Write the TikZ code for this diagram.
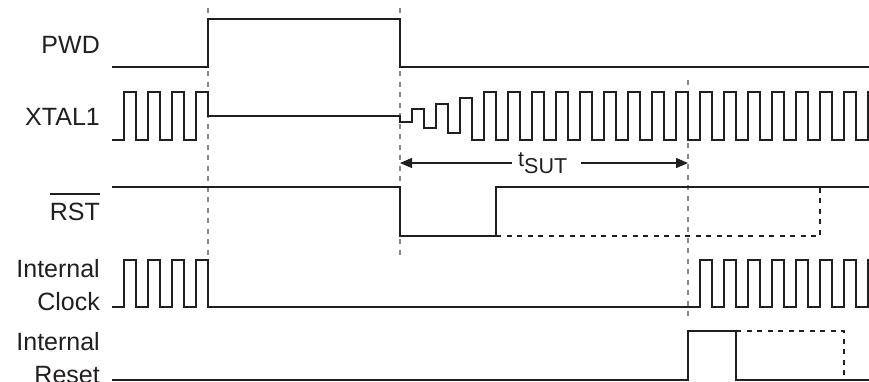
\documentclass[tikz,border=0pt]{standalone}
\usepackage{fontspec}
\setmainfont{Liberation Sans}
\usetikzlibrary{arrows.meta}
\definecolor{sig}{HTML}{231F20}
\definecolor{guide}{HTML}{8A8A8A}
\begin{document}
\begin{tikzpicture}[x=1pt,y=-1pt,
  wave/.style={draw=sig,line width=2pt,line join=miter},
  wavedash/.style={draw=sig,line width=2pt,dash pattern=on 5pt off 5.5pt},
  guideline/.style={draw=guide,line width=1.8pt,dash pattern=on 5pt off 5.5pt},
  lbl/.style={anchor=base east,inner sep=0pt,text=sig,font=\fontsize{25}{32}\selectfont},
  dim/.style={draw=sig,line width=1.3pt,-{Triangle[length=12pt,width=10pt]}}]
\useasboundingbox (0,0) rectangle (869,381);
\clip (0,0) rectangle (869,381);
\fill[white] (0,0) rectangle (869,381);

% guide lines
\draw[guideline] (208,8) -- (208,312);
\draw[guideline] (400,8) -- (400,258);
\draw[guideline] (688,80) -- (688,320);

% labels
\node[lbl] (lpwd) at (100,53) {PWD};
\node[lbl] (lxtal) at (100,125) {XTAL1};
\node[lbl] (lrst) at (100,220) {RST};
\draw[draw=sig,line width=2pt] ([yshift=8pt]lrst.north west) -- ([yshift=8pt]lrst.north east);
\node[lbl] (lint1) at (100,277) {Internal};
\node[lbl] (lclk) at (100,310) {Clock};
\node[lbl] (lint2) at (100,350) {Internal};
\node[lbl] (lres) at (100,383) {Reset};

% PWD
\draw[wave] (112,67) -- (208,67) -- (208,19) -- (400,19) -- (400,67) -- (870,67);

% XTAL1
\draw[wave] (112,140)
  foreach \x in {124,148,172} { -- (\x,140) -- (\x,92) -- (\x+12,92) -- (\x+12,140) }
  -- (196,140) -- (196,92) -- (208,92) -- (208,116) -- (400,116)
  -- (400,122) -- (412,122) -- (412,109) -- (424,109) -- (424,128)
  -- (436,128) -- (436,104) -- (448,104) -- (448,133) -- (460,133)
  -- (460,98) -- (472,98) -- (472,140) -- (484,140)
  foreach \x in {484,508,...,844} { -- (\x,92) -- (\x+12,92) -- (\x+12,140) -- (\x+24,140) }
  -- (868,92) -- (872,92);

% t_SUT
\coordinate (tl) at (400,163);
\coordinate (tr) at (688,163);
\coordinate (tla) at (512,163);
\coordinate (tra) at (581,163);
\node[anchor=base west,inner sep=0pt,text=sig,font=\fontsize{21.5}{24}\selectfont] (tsut) at (518,166) {t\raisebox{-7pt}{SUT}};
\draw[dim] (tla) -- (tl);
\draw[dim] (tra) -- (tr);

% RST
\draw[wave] (112,187) -- (400,187) -- (400,236) -- (496,236) -- (496,187) -- (870,187);
\draw[wavedash] (496,236) -- (820,236) -- (820,187);

% Internal Clock
\draw[wave] (112,307)
  foreach \x in {124,148,172} { -- (\x,307) -- (\x,260) -- (\x+12,260) -- (\x+12,307) }
  -- (196,307) -- (196,260) -- (208,260) -- (208,307) -- (700,307)
  foreach \x in {700,724,...,844} { -- (\x,260) -- (\x+12,260) -- (\x+12,307) -- (\x+24,307) }
  -- (868,260) -- (872,260);

% Internal Reset
\draw[wave] (112,380) -- (688,380) -- (688,331) -- (736,331) -- (736,380) -- (870,380);
\draw[wavedash] (736,331) -- (844,331) -- (844,380);
\end{tikzpicture}
\end{document}
